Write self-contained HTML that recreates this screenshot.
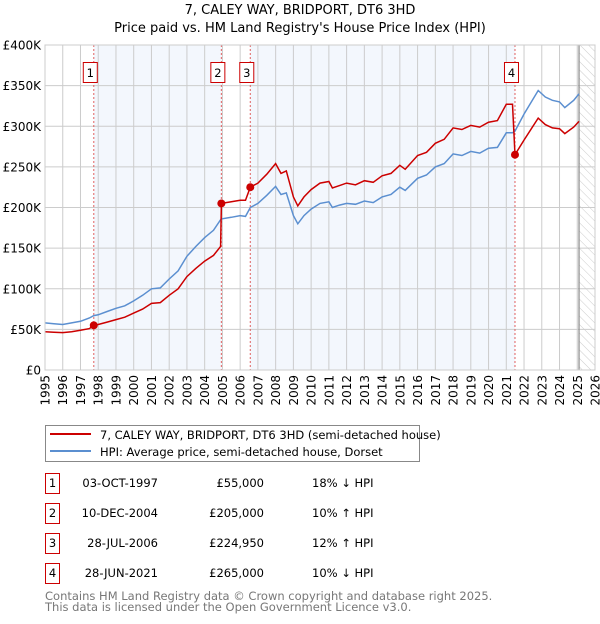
<!DOCTYPE html>
<html><head><meta charset="utf-8"><style>
body{margin:0;background:#fff;font-family:"DejaVu Sans","Liberation Sans",sans-serif;}
svg text{font-family:"DejaVu Sans","Liberation Sans",sans-serif;}
</style></head><body>
<svg id="c" width="600" height="620" viewBox="0 0 600 620">
<defs><pattern id="hatch" width="6" height="6" patternUnits="userSpaceOnUse" patternTransform="rotate(-45)"><line x1="0" y1="0" x2="0" y2="6" stroke="#ccc" stroke-width="1"/></pattern></defs>
<text x="300" y="14" text-anchor="middle" font-size="13">7, CALEY WAY, BRIDPORT, DT6 3HD</text>
<text x="300" y="32" text-anchor="middle" font-size="13">Price paid vs. HM Land Registry's House Price Index (HPI)</text>
<g id="plot"></g>
<g>
<rect x="45.5" y="425.5" width="374" height="36" fill="#fff" stroke="#888"/>
<line x1="50" y1="434" x2="91" y2="434" stroke="#cc0000" stroke-width="2"/>
<text x="100" y="439" font-size="11.5">7, CALEY WAY, BRIDPORT, DT6 3HD (semi-detached house)</text>
<line x1="50" y1="451" x2="91" y2="451" stroke="#5b8fd0" stroke-width="2"/>
<text x="100" y="456" font-size="11.5">HPI: Average price, semi-detached house, Dorset</text>
</g>
<g id="table" font-size="11.5"></g>
<text x="45" y="600" font-size="11.5" fill="#777">Contains HM Land Registry data © Crown copyright and database right 2025.</text>
<text x="45" y="611" font-size="11.5" fill="#777">This data is licensed under the Open Government Licence v3.0.</text>
</svg>
<script>
const dates=[1995,1995.5,1996,1996.5,1997,1997.5,1997.75,1998,1998.5,1999,1999.5,2000,2000.5,2001,2001.5,2002,2002.5,2003,2003.5,2004,2004.5,2004.9,2004.94,2005.5,2006,2006.3,2006.57,2007,2007.5,2008,2008.3,2008.6,2009,2009.25,2009.6,2010,2010.5,2011,2011.2,2011.6,2012,2012.5,2013,2013.5,2014,2014.5,2015,2015.3,2016,2016.5,2017,2017.5,2018,2018.5,2019,2019.5,2020,2020.5,2021,2021.35,2021.49,2022,2022.8,2023.2,2023.6,2024,2024.3,2024.8,2025.1];
const hpi=[58,57,56,58,60,64,67,68,72,76,79,85,92,100,101,112,122,140,152,163,172,185,186,188,190,189,200,205,215,226,216,218,190,180,190,198,205,207,200,203,205,204,208,206,213,216,225,221,236,240,250,254,266,264,269,267,273,274,292,292,294,315,344,336,332,330,323,332,340];
const price=[47,46.5,46,47,49,51,55,56,59,62,65,70,75,82,83,92,100,115,125,134,141,152,205,207,209,209,225,230,241,254,242,245,213,202,213,222,230,232,224,227,230,228,233,231,239,242,252,247,264,268,279,284,298,296,301,299,305,307,327,327,265,283,310,302,298,297,291,299,306];
const saleLabels=["1","2","3","4"];
const saleDates=[1997.75,2004.94,2006.57,2021.49];
const salePrices=[55,205,224.95,265];
const saleDateText=["03-OCT-1997","10-DEC-2004","28-JUL-2006","28-JUN-2021"];
const salePriceText=["£55,000","£205,000","£224,950","£265,000"];
const saleHpiText=["18% ↓ HPI","10% ↑ HPI","12% ↑ HPI","10% ↓ HPI"];
const yTicks=[0,50,100,150,200,250,300,350,400];
const yTickLabels=["£0","£50K","£100K","£150K","£200K","£250K","£300K","£350K","£400K"];
const xTicks=[1995,1996,1997,1998,1999,2000,2001,2002,2003,2004,2005,2006,2007,2008,2009,2010,2011,2012,2013,2014,2015,2016,2017,2018,2019,2020,2021,2022,2023,2024,2025,2026];
const dataEnd=2025.1;

const X0=45,X1=595,Y0=370,Y1=45;
const x=v=>X0+(v-1995)/31*(X1-X0);
const y=v=>Y0-v/400*(Y0-Y1);
const NS="http://www.w3.org/2000/svg";
const plot=document.getElementById('plot');
function mk(tag,attrs,parent){const e=document.createElementNS(NS,tag);for(const k in attrs)e.setAttribute(k,attrs[k]);(parent||plot).appendChild(e);return e;}
let e;
e=mk('rect',{x:X0,y:Y1,width:X1-X0,height:Y0-Y1,fill:'#fff'});


for(let i=0;i<saleDates.length;i++){
  const end=i+1<saleDates.length?saleDates[i+1]:null;
  if(i%2===0&&end!==null){
    e=mk('rect',{x:x(saleDates[i]),y:Y1,width:x(end)-x(saleDates[i]),height:Y0-Y1,fill:'#eef3fc',opacity:0.7});
    
    
  }
}
e=mk('rect',{x:x(dataEnd),y:Y1,width:X1-x(dataEnd),height:Y0-Y1,fill:'url(#hatch)'});


yTicks.forEach((t,i)=>{
  e=mk('line',{x1:X0,x2:X1,y1:y(t),y2:y(t),stroke:'#ccc','stroke-width':1});
  
  
  e=mk('text',{x:X0-4,y:y(t)+4.5,'text-anchor':'end','font-size':12});
  e.textContent=yTickLabels[i];
  
  
});
xTicks.forEach(t=>{
  e=mk('line',{x1:x(t),x2:x(t),y1:Y1,y2:Y0,stroke:'#ccc','stroke-width':1});
  
  
  e=mk('text',{x:0,y:0,'text-anchor':'end','font-size':12,transform:`translate(${x(t)+4.5},${Y0+5}) rotate(-90)`});
  e.textContent=t;
  
  
});
e=mk('line',{x1:x(dataEnd),x2:x(dataEnd),y1:Y1,y2:Y0,stroke:'#888','stroke-width':1.2});


saleDates.forEach((d,i)=>{
  e=mk('line',{x1:x(d),x2:x(d),y1:Y1,y2:Y0,stroke:'#e06060','stroke-width':1,'stroke-dasharray':'2,2'});
  
  
});
const path=(arr)=>arr.map((v,i)=>(i?'L':'M')+x(dates[i]).toFixed(1)+','+y(v).toFixed(1)).join('');
e=mk('path',{d:path(hpi),fill:'none',stroke:'#5b8fd0','stroke-width':1.5});


e=mk('path',{d:path(price),fill:'none',stroke:'#cc0000','stroke-width':1.5});


saleDates.forEach((d,i)=>{
  e=mk('circle',{cx:x(d),cy:y(salePrices[i]),r:4,fill:'#cc0000'});
  
  
  e=mk('rect',{x:x(d)-10.5,y:62.5,width:14,height:20,fill:'#fff',stroke:'#cc0000'});
  
  
  e=mk('text',{x:x(d)-3.5,y:77,'text-anchor':'middle','font-size':11.5});
  e.textContent=saleLabels[i];
  
  
});
e=mk('rect',{x:X0,y:Y1,width:X1-X0,height:Y0-Y1,fill:'none',stroke:'#ccc'});


const tb=document.getElementById('table');
saleLabels.forEach((l,i)=>{
  const yy=483+i*30;
  e=mk('rect',{x:45.5,y:yy-9.5,width:14,height:20,fill:'#fff',stroke:'#cc0000'},tb);
  
  
  e=mk('text',{x:52.5,y:yy+4,'text-anchor':'middle'},tb);e.textContent=l;
  
  
  e=mk('text',{x:158,y:yy+4,'text-anchor':'end'},tb);e.textContent=saleDateText[i];
  
  
  e=mk('text',{x:264,y:yy+4,'text-anchor':'end'},tb);e.textContent=salePriceText[i];
  
  
  e=mk('text',{x:312,y:yy+4},tb);e.textContent=saleHpiText[i];
  
  
});
</script>
</body></html>
